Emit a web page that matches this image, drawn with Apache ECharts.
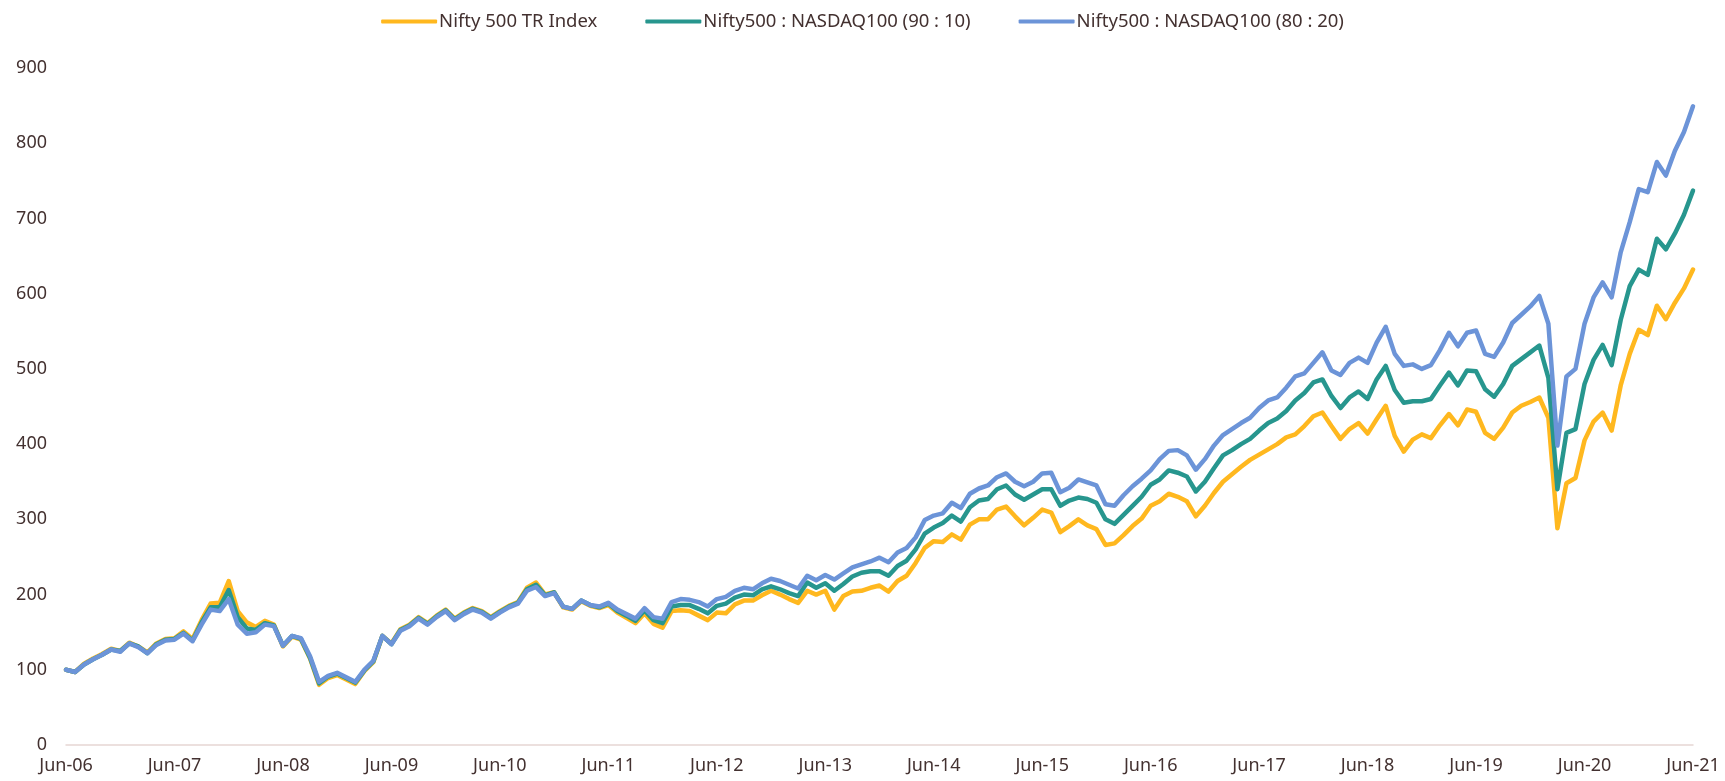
<!DOCTYPE html>
<html lang="en">
<head>
    <meta charset="UTF-8">
    <style>
    * {
        margin: 0;
        padding: 0;
        box-sizing: border-box;
    }

    body {
        background-color: #ffffff;
    }

    #chart {
        width: 1725px;
        height: 781px;
    }
    </style>
    <script src="https://cdn.jsdelivr.net/npm/echarts@6.0.0/dist/echarts.min.js"></script>
</head>
<body>
    <div id="chart"></div>
    <script>
        // monthly closes, Jun-06 .. Jun-21
        const niftyTR = [
            100, 97, 108, 115, 121, 128, 125, 136, 131, 123, 135, 141,
            142, 151, 141, 166, 188, 189, 218, 178, 163, 157, 165, 160,
            131, 144, 140, 115, 80, 89, 93, 87, 81, 98, 110, 145,
            135, 154, 160, 170, 162, 172, 180, 168, 176, 182, 178, 170,
            178, 185, 190, 209, 216, 200, 203, 183, 180, 191, 185, 182,
            186, 176, 169, 162, 175, 161, 156, 178, 179, 178, 172, 166,
            176, 175, 187, 192, 192, 199, 205, 200, 194, 189, 205, 200,
            205, 180, 198, 204, 205, 209, 212, 204, 218, 225, 242, 262,
            271, 270, 280, 273, 293, 300, 300, 313, 317, 304, 292, 302,
            313, 309, 283, 291, 300, 292, 287, 266, 268, 279, 291, 301,
            318, 324, 334, 330, 324, 304, 318, 335, 350, 360, 370, 379,
            386, 393, 400, 409, 413, 424, 437, 442, 424, 407, 420, 428,
            414, 433, 451, 411, 390, 406, 413, 408, 425, 440, 425, 446,
            443, 415, 407, 422, 442, 451, 456, 462, 435, 288, 348, 355,
            405, 430, 442, 418, 478, 520, 552, 545, 584, 566, 588, 607,
            632
        ];

        const mix9010 = [
            100, 97, 107, 114, 120, 127, 125, 135, 131, 122, 134, 140,
            141, 149, 139, 163, 183, 183, 206, 170, 155, 153, 162, 159,
            132, 145, 141, 116, 82, 91, 95, 89, 83, 99, 111, 145,
            134, 153, 159, 169, 161, 171, 179, 167, 175, 181, 177, 169,
            177, 184, 189, 207, 213, 199, 203, 184, 181, 192, 186, 183,
            188, 178, 172, 165, 179, 166, 162, 184, 186, 186, 181, 175,
            185, 188, 196, 200, 199, 207, 211, 207, 202, 198, 216, 209,
            215, 205, 214, 224, 229, 231, 231, 225, 238, 245, 260, 281,
            289, 295, 305, 297, 316, 325, 327, 340, 345, 333, 326, 333,
            340, 340, 318, 325, 329, 327, 322, 300, 294, 306, 318, 330,
            346, 353, 365, 362, 357, 337, 350, 368, 385, 392, 400, 407,
            418, 428, 434, 444, 458, 468, 482, 486, 464, 448, 462, 470,
            460, 486, 504, 472, 455, 457, 457, 460, 478, 495, 478, 498,
            497, 473, 463, 480, 504, 513, 522, 531, 488, 340, 415, 420,
            480, 512, 532, 505, 565, 610, 632, 625, 673, 659, 680, 705,
            737
        ];

        const mix8020 = [
            100, 97, 107, 114, 120, 127, 124, 135, 130, 122, 133, 139,
            140, 148, 138, 160, 180, 178, 194, 160, 148, 150, 160, 158,
            132, 145, 142, 118, 84, 92, 96, 90, 84, 100, 112, 145,
            134, 152, 158, 168, 160, 170, 178, 166, 174, 180, 176, 168,
            176, 183, 188, 205, 210, 198, 202, 184, 181, 192, 186, 184,
            189, 180, 174, 168, 182, 170, 168, 190, 194, 193, 190, 184,
            194, 197, 205, 209, 207, 215, 221, 218, 213, 208, 225, 219,
            226, 220, 228, 236, 240, 244, 249, 243, 256, 262, 276, 299,
            305, 308, 322, 315, 334, 341, 345, 356, 361, 350, 344, 350,
            361, 362, 336, 342, 353, 349, 345, 320, 318, 332, 344, 354,
            365, 380, 391, 392, 385, 366, 380, 398, 412, 420, 428, 435,
            448, 458, 462, 475, 490, 494, 508, 522, 498, 492, 508, 515,
            508, 535, 556, 520, 504, 506, 500, 505, 525, 548, 530, 548,
            551, 520, 516, 535, 561, 572, 583, 597, 560, 398, 490, 500,
            560, 595, 615, 595, 655, 695, 739, 735, 775, 757, 790, 815,
            849
        ];

        const seriesNames = ['Nifty 500 TR Index', 'Nifty500 : NASDAQ100 (90 : 10)', 'Nifty500 : NASDAQ100 (80 : 20)'];
        const seriesColors = ['#ffb81f', '#27968e', '#6c94d8'];

        const monthNames = ['Jan', 'Feb', 'Mar', 'Apr', 'May', 'Jun', 'Jul', 'Aug', 'Sep', 'Oct', 'Nov', 'Dec'];
        const categories = [];
        for (let i = 0; i < niftyTR.length; i++) {
            const k = 5 + i;
            const yy = String(6 + Math.floor(k / 12)).padStart(2, '0');
            categories.push(monthNames[k % 12] + '-' + yy);
        }

        const textColor = '#433130';
        const font = 'Noto Sans';

        const chart = echarts.init(document.getElementById('chart'), null, { renderer: 'canvas' });

        const lines = [niftyTR, mix9010, mix8020].map((values, i) => ({
            name: seriesNames[i],
            type: 'line',
            data: values,
            symbol: 'none',
            smooth: false,
            z: 2 + i,
            lineStyle: { width: 4.5, color: seriesColors[i], cap: 'round', join: 'round' },
            itemStyle: { color: seriesColors[i] }
        }));

        chart.setOption({
            animation: false,
            textStyle: { fontFamily: font, color: textColor },
            legend: {
                top: 7,
                left: 'center',
                icon: 'roundRect',
                itemWidth: 56,
                itemHeight: 4,
                itemGap: 48,
                textStyle: { fontSize: 18.5, color: textColor, fontFamily: font, padding: [0, 0, 0, -3] },
                data: seriesNames
            },
            grid: {
                left: 66,
                right: 32,
                top: 68,
                bottom: 36
            },
            xAxis: {
                type: 'category',
                data: categories,
                boundaryGap: false,
                axisLine: { lineStyle: { color: '#e6d6d4', width: 1.5 } },
                axisTick: { show: false },
                axisLabel: {
                    interval: 11,
                    margin: 12,
                    fontSize: 18,
                    color: textColor,
                    fontFamily: font
                },
                splitLine: { show: false }
            },
            yAxis: {
                type: 'value',
                min: 0,
                max: 900,
                interval: 100,
                axisLine: { show: false },
                axisTick: { show: false },
                splitLine: { show: false },
                axisLabel: {
                    margin: 19,
                    fontSize: 18,
                    color: textColor,
                    fontFamily: font
                }
            },
            series: lines
        });
    </script>
</body>
</html>
